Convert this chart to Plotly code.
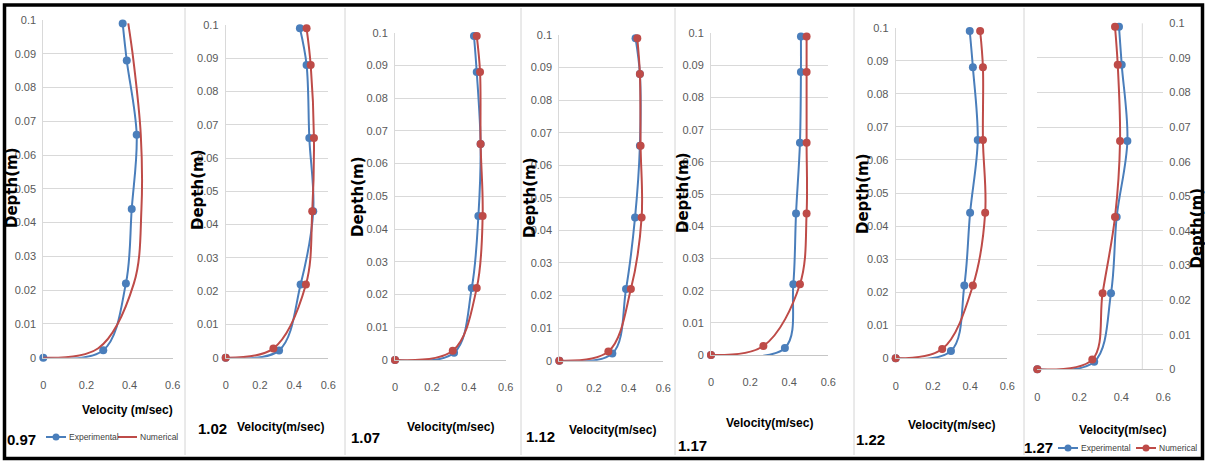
import plotly.graph_objects as go

# ---------------------------------------------------------------- data
# depth of each measuring point (m); the near-bed point sits slightly
# higher for the numerical profiles
depth_exp = [0, 0.0022, 0.022, 0.044, 0.066, 0.088, 0.099]
depth_num = [0, 0.0028, 0.022, 0.044, 0.066, 0.088, 0.099]

# Froude number of each run (panel label)
froude = ["0.97", "1.02", "1.07", "1.12", "1.17", "1.22", "1.27"]

# velocity profiles (m/sec), bed -> surface
exp_097 = [0, 0.278, 0.383, 0.410, 0.433, 0.387, 0.368]
num_097 = [0, 0.255, 0.420, 0.455, 0.452, 0.418, 0.394]
exp_102 = [0, 0.312, 0.438, 0.512, 0.489, 0.473, 0.434]
num_102 = [0, 0.279, 0.469, 0.506, 0.516, 0.497, 0.473]
exp_107 = [0, 0.320, 0.416, 0.452, 0.464, 0.443, 0.428]
num_107 = [0, 0.313, 0.443, 0.475, 0.464, 0.461, 0.443]
exp_112 = [0, 0.306, 0.385, 0.437, 0.465, 0.465, 0.440]
num_112 = [0, 0.283, 0.413, 0.475, 0.469, 0.465, 0.450]
exp_117 = [0, 0.378, 0.421, 0.435, 0.455, 0.460, 0.460]
num_117 = [0, 0.268, 0.455, 0.489, 0.489, 0.489, 0.489]
exp_122 = [0, 0.297, 0.369, 0.400, 0.441, 0.415, 0.398]
num_122 = [0, 0.250, 0.415, 0.481, 0.469, 0.469, 0.454]
exp_127 = [0, 0.271, 0.351, 0.378, 0.429, 0.402, 0.389]
num_127 = [0, 0.262, 0.311, 0.370, 0.394, 0.383, 0.370]

experimental = [exp_097, exp_102, exp_107, exp_112, exp_117, exp_122, exp_127]
numerical = [num_097, num_102, num_107, num_112, num_117, num_122, num_127]

velocity_ticks = [0, 0.2, 0.4, 0.6]
velocity_labels = ["0", "0.2", "0.4", "0.6"]
depth_ticks = [0, 0.01, 0.02, 0.03, 0.04, 0.05, 0.06, 0.07, 0.08, 0.09, 0.1]
depth_labels = ["0", "0.01", "0.02", "0.03", "0.04", "0.05",
                "0.06", "0.07", "0.08", "0.09", "0.1"]

x_titles = ["Velocity (m/sec)"] + ["Velocity(m/sec)"] * 6
y_title = "Depth(m)"
series_names = ["Experimental", "Numerical"]

# ---------------------------------------------------------------- layout
W, H = 1205, 461
BLUE = "#4a7ebb"
RED = "#be4b48"
GRID = "#d9d9d9"
SANS = "Liberation Sans, Arial, sans-serif"
WIDE = "DejaVu Sans, Verdana, sans-serif"


def px(x):
    return x / W


def py(y):
    return 1 - y / H


# plot area of each panel in pixels: left, right, top, bottom
areas = [
    (43.3, 172.7, 20.0, 357.7),
    (225.7, 328.3, 25.0, 357.7),
    (395.0, 505.7, 32.7, 360.0),
    (559.3, 663.3, 35.0, 360.7),
    (711.0, 828.3, 33.3, 355.0),
    (895.7, 1007.3, 27.7, 358.3),
    (1037.3, 1163.3, 23.3, 369.3),
]
# centre of the depth title, velocity title and run label of each panel
ytitle_pos = [(12, 188), (198, 190), (358, 197), (530, 198),
              (683, 193), (863, 194), (1196.5, 228)]
xtitle_pos = [(127, 410), (280, 427), (450, 427), (612, 430),
              (770, 423), (951, 425), (1122, 430)]
label_pos = [(21, 439), (212, 428), (365.5, 437), (540, 436),
             (692, 445), (870, 439), (1038.5, 447)]
separators = [185, 345, 521, 675, 854, 1024]

fig = go.Figure()
annotations = []
shapes = []

for i in range(7):
    n = i + 1
    xa = "x" if n == 1 else f"x{n}"
    ya = "y" if n == 1 else f"y{n}"
    fig.add_trace(go.Scatter(
        x=experimental[i], y=depth_exp, mode="lines+markers",
        name=series_names[0], xaxis=xa, yaxis=ya, showlegend=False,
        line=dict(color=BLUE, width=2, shape="spline", smoothing=1),
        marker=dict(color=BLUE, size=8), cliponaxis=False))
    fig.add_trace(go.Scatter(
        x=numerical[i], y=depth_num,
        mode="lines" if i == 0 else "lines+markers",
        name=series_names[1], xaxis=xa, yaxis=ya, showlegend=False,
        line=dict(color=RED, width=2, shape="spline", smoothing=1),
        marker=dict(color=RED, size=8), cliponaxis=False))

    left, right, top, bottom = areas[i]
    last = i == 6
    fig.layout[f"xaxis{'' if n == 1 else n}"] = dict(
        domain=[px(left), px(right)], anchor=ya, range=[0, 0.6],
        automargin=False,
        tickvals=velocity_ticks, ticktext=velocity_labels,
        showgrid=False, zeroline=False, showline=True, linecolor="#c6c6c6",
        linewidth=1, ticks="", ticklabelstandoff=17,
        tickfont=dict(family=SANS, size=11, color="#595959"))
    fig.layout[f"yaxis{'' if n == 1 else n}"] = dict(
        domain=[py(bottom), py(top)], anchor=xa, range=[0, 0.1],
        automargin=False,
        tickvals=depth_ticks, ticktext=depth_labels,
        showgrid=True, gridcolor=GRID, gridwidth=1, zeroline=False,
        showline=not last, linecolor=GRID, linewidth=1, ticks="",
        side="right" if last else "left",
        ticklabelstandoff=5 if last else 4,
        tickfont=dict(family=SANS, size=11, color="#595959"))

    tx, ty = ytitle_pos[i]
    annotations.append(dict(
        x=px(tx), y=py(ty), xref="paper", yref="paper", text=y_title,
        textangle=-90, showarrow=False, xanchor="center", yanchor="middle",
        font=dict(family=WIDE, size=15, color="black", weight="bold")))
    tx, ty = xtitle_pos[i]
    annotations.append(dict(
        x=px(tx), y=py(ty), xref="paper", yref="paper", text=x_titles[i],
        showarrow=False, xanchor="center", yanchor="middle",
        font=dict(family=SANS, size=12, color="black", weight="bold")))
    tx, ty = label_pos[i]
    annotations.append(dict(
        x=px(tx), y=py(ty), xref="paper", yref="paper", text=froude[i],
        showarrow=False, xanchor="center", yanchor="middle",
        font=dict(family=SANS, size=15, color="black", weight="bold")))

# vertical reference line of the last panel
shapes.append(dict(type="line", xref="x7", yref="y7 domain", x0=0.5, x1=0.5,
                   y0=0, y1=1, line=dict(color=GRID, width=1), layer="below"))

# panel separators and outer frame
for sx in separators:
    shapes.append(dict(type="line", xref="paper", yref="paper",
                       x0=px(sx), x1=px(sx), y0=py(8), y1=py(455),
                       line=dict(color="#d4d4d4", width=1)))
shapes.append(dict(type="rect", xref="paper", yref="paper",
                   x0=px(4.5), x1=px(1202.5), y0=py(458.5), y1=py(5),
                   line=dict(color="black", width=3.5)))


# legend keys (first and last panel)
def legend_key(x0, x1, y, color, text, marker):
    shapes.append(dict(type="line", xref="paper", yref="paper",
                       x0=px(x0), x1=px(x1), y0=py(y), y1=py(y),
                       line=dict(color=color, width=2)))
    if marker:
        mx = px((x0 + x1) / 2)
        shapes.append(dict(type="circle", xref="paper", yref="paper",
                           xsizemode="pixel", ysizemode="pixel",
                           xanchor=mx, yanchor=py(y),
                           x0=-3.5, x1=3.5, y0=-3.5, y1=3.5,
                           fillcolor=color, line=dict(color=color, width=0)))
    annotations.append(dict(
        x=px(x1 + 1), y=py(y), xref="paper", yref="paper", text=text,
        showarrow=False, xanchor="left", yanchor="middle",
        font=dict(family=SANS, size=8.5, color="#404040")))


legend_key(46, 66, 437, BLUE, series_names[0], True)
legend_key(118, 137, 437, RED, series_names[1], False)
legend_key(1058, 1078, 448, BLUE, series_names[0], True)
legend_key(1136, 1156, 448, RED, series_names[1], True)

fig.update_layout(
    width=W, height=H, margin=dict(l=0, r=0, t=0, b=0),
    paper_bgcolor="white", plot_bgcolor="white",
    showlegend=False, annotations=annotations, shapes=shapes,
)

fig.write_html("out.html")
